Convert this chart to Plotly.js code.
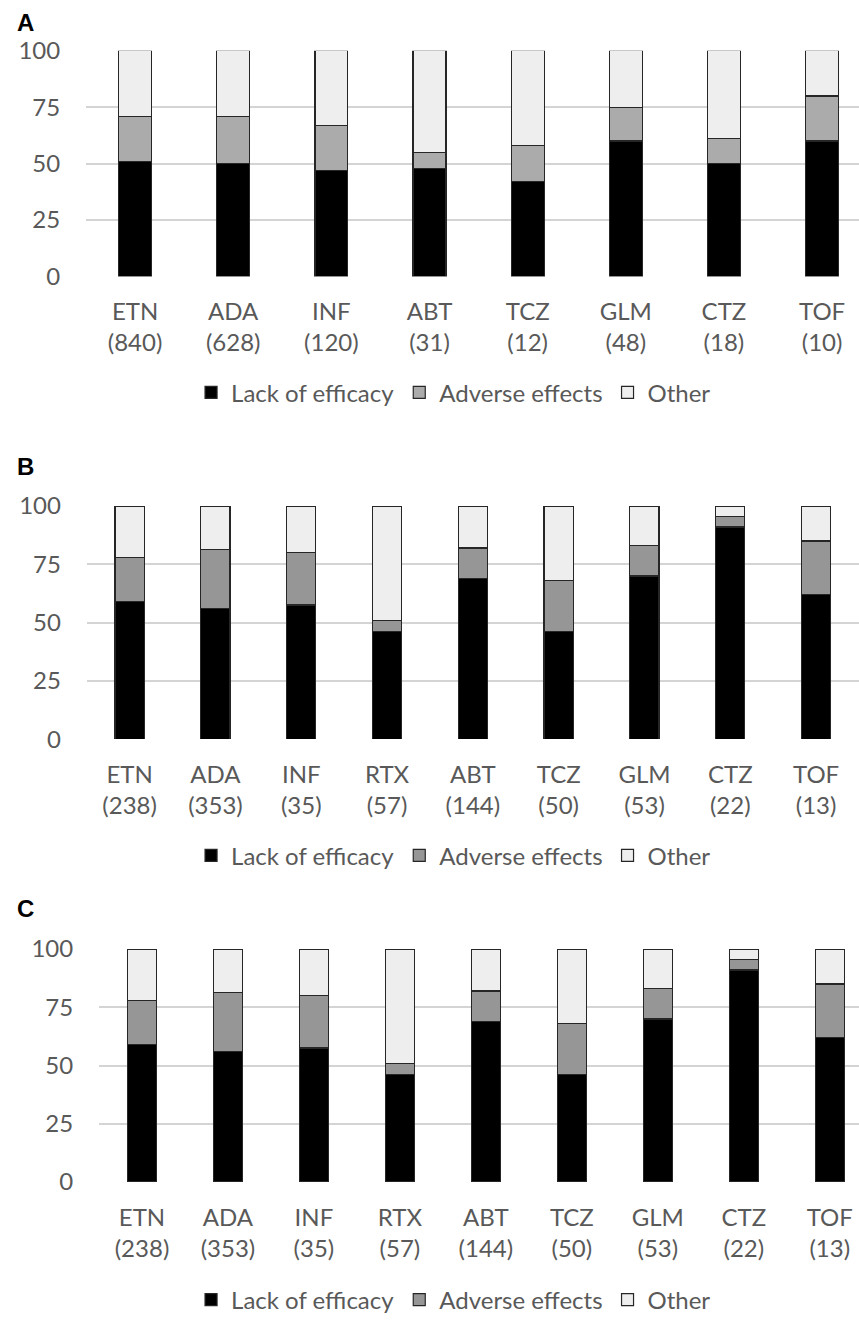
<!DOCTYPE html>
<html>
<head>
<meta charset="utf-8">
<script src="https://cdn.plot.ly/plotly-3.0.1.min.js"></script>
<style>html,body{margin:0;padding:0;background:#fff;}#chart{width:859px;height:1323px;}</style>
</head>
<body>
<div id="chart"></div>
<script>
// Panel A data
const drugsA = ['ETN','ADA','INF','ABT','TCZ','GLM','CTZ','TOF'];
const nA = [840, 628, 120, 31, 12, 48, 18, 10];
const lackA = [51, 50, 47, 48, 42, 60, 50, 60];
const adverseA = [20, 21, 20, 7, 16, 15, 11, 20];
const otherA = [29, 29, 33, 45, 42, 25, 39, 20];

// Panel B data
const drugsB = ['ETN','ADA','INF','RTX','ABT','TCZ','GLM','CTZ','TOF'];
const nB = [238, 353, 35, 57, 144, 50, 53, 22, 13];
const lackB = [59, 56, 57.5, 46, 69, 46, 70, 91, 62];
const adverseB = [19, 25.5, 22.5, 5, 13, 22, 13, 4.5, 23];
const otherB = [22, 18.5, 20, 49, 18, 32, 17, 4.5, 15];

// Panel C data
const drugsC = ['ETN','ADA','INF','RTX','ABT','TCZ','GLM','CTZ','TOF'];
const nC = [238, 353, 35, 57, 144, 50, 53, 22, 13];
const lackC = [59, 56, 57.5, 46, 69, 46, 70, 91, 62];
const adverseC = [19, 25.5, 22.5, 5, 13, 22, 13, 4.5, 23];
const otherC = [22, 18.5, 20, 49, 18, 32, 17, 4.5, 15];

const seriesNames = ['Lack of efficacy', 'Adverse effects', 'Other'];
const yTicks = [0, 25, 50, 75, 100];

const FONT = 'Lato, "Open Sans", sans-serif';
const TXT = '#595959';
const outline = {color: '#262626', width: 1.2};

function mkTraces(drugs, series, colors, xa, ya, leg, w) {
  return series.map((vals, i) => ({
    type: 'bar', x: drugs, y: vals, name: seriesNames[i],
    xaxis: xa, yaxis: ya, legend: leg, width: w,
    marker: {color: colors[i], line: outline},
    hoverinfo: 'skip'
  }));
}

const traces = [].concat(
  mkTraces(drugsA, [lackA, adverseA, otherA], ['#000000', '#ababab', '#eeeeee'], 'x', 'y', 'legend', 0.335),
  mkTraces(drugsB, [lackB, adverseB, otherB], ['#000000', '#969696', '#eeeeee'], 'x2', 'y2', 'legend2', 0.34),
  mkTraces(drugsC, [lackC, adverseC, otherC], ['#000000', '#969696', '#eeeeee'], 'x3', 'y3', 'legend3', 0.34)
);

const H = 1323, W = 859;
function ydom(top, bottom) { return [1 - bottom / H, 1 - top / H]; }

function xaxis(drugs, n, left, rangeEnd, anchor) {
  return {
    domain: [left / W, 1], anchor: anchor, type: 'category',
    range: [-0.5, rangeEnd],
    tickvals: drugs,
    ticktext: drugs.map((d, i) => d + '<br>(' + n[i] + ')'),
    ticks: 'outside', ticklen: 14, tickcolor: 'rgba(0,0,0,0)',
    showline: false, showgrid: false, zeroline: false,
    tickfont: {family: FONT, size: 24, color: TXT},
    automargin: false, fixedrange: true
  };
}
function yaxis(top, bottom, anchor) {
  return {
    domain: ydom(top, bottom), anchor: anchor,
    range: [0, 100], tickvals: yTicks,
    ticks: 'outside', ticklen: 20, tickcolor: 'rgba(0,0,0,0)',
    showgrid: true, gridcolor: '#d4d4d4', gridwidth: 2,
    zeroline: false, showline: false,
    tickfont: {family: FONT, size: 24, color: TXT},
    automargin: false, fixedrange: true
  };
}
function legend(yc) {
  return {
    orientation: 'h', x: 0.528, xanchor: 'center', y: 1 - yc / H, yanchor: 'middle',
    font: {family: FONT, size: 24, color: TXT},
    itemwidth: 30, traceorder: 'normal', bgcolor: 'rgba(0,0,0,0)'
  };
}

const layout = {
  width: W, height: H,
  margin: {l: 0, r: 0, t: 0, b: 0},
  paper_bgcolor: '#ffffff', plot_bgcolor: '#ffffff',
  barmode: 'stack',
  showlegend: true,
  xaxis: xaxis(drugsA, nA, 86, 7.376, 'y'),
  yaxis: yaxis(51.3, 278.7, 'x'),
  xaxis2: xaxis(drugsB, nB, 86.7, 8.5, 'y2'),
  yaxis2: yaxis(510.3, 745.3, 'x2'),
  xaxis3: xaxis(drugsC, nC, 99, 8.34, 'y3'),
  yaxis3: yaxis(957, 1192, 'x3'),
  legend: legend(396),
  legend2: legend(863),
  legend3: legend(1311),
  annotations: [
    {text: 'A', x: 15 / W, y: 1 - 23 / H},
    {text: 'B', x: 15 / W, y: 1 - 470 / H},
    {text: 'C', x: 15 / W, y: 1 - 916 / H}
  ].map(a => Object.assign(a, {
    xref: 'paper', yref: 'paper', xanchor: 'left', yanchor: 'middle', showarrow: false,
    font: {family: '"Liberation Sans", Arial, sans-serif', size: 24, color: '#000', weight: 'bold'}
  }))
};

Plotly.newPlot('chart', traces, layout, {staticPlot: true, displayModeBar: false});
</script>
</body>
</html>
